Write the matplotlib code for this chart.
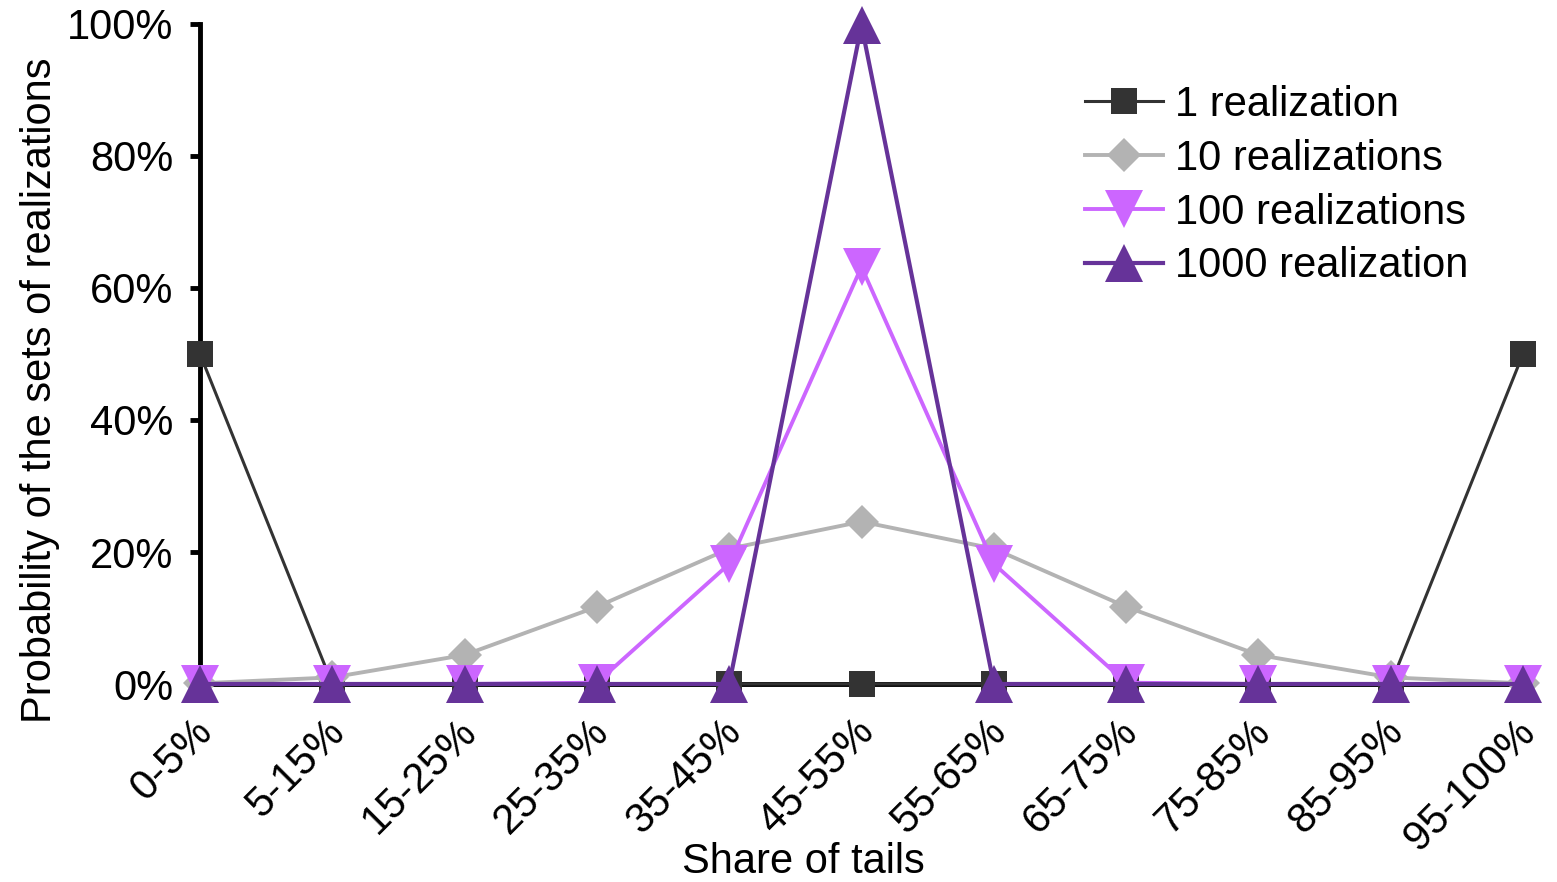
import matplotlib
matplotlib.use("Agg")
import matplotlib.pyplot as plt
import matplotlib.transforms as mtransforms
import numpy as np

categories = ["0-5%", "5-15%", "15-25%", "25-35%", "35-45%", "45-55%",
              "55-65%", "65-75%", "75-85%", "85-95%", "95-100%"]
s1 = [50, 0, 0, 0, 0, 0, 0, 0, 0, 0, 50]
s10 = [0.1, 1.0, 4.4, 11.7, 20.5, 24.6, 20.5, 11.7, 4.4, 1.0, 0.1]
s100 = [0, 0, 0, 0.2, 18.2, 63.2, 18.2, 0.2, 0, 0, 0]
s1000 = [0, 0, 0, 0, 0, 99.8, 0, 0, 0, 0, 0]
labels = ["1 realization", "10 realizations", "100 realizations", "1000 realization"]
yticks = [0, 20, 40, 60, 80, 100]

plt.rcParams['font.family'] = ['Liberation Sans', 'DejaVu Sans']
FS = 30

fig = plt.figure(figsize=(15.57, 8.82), dpi=100)
ax = fig.add_axes([200/1557, (882-684)/882, (1523-200)/1557, (684-24)/882])
x = np.arange(len(categories))

ax.plot(x, s1, color='#333333', lw=2.2, marker='s', ms=19, mec='#333333', mew=0,
        label=labels[0], clip_on=False, zorder=3)
ax.plot(x, s10, color='#b3b3b3', lw=2.8, marker='D', ms=17, mec='#b3b3b3', mew=0,
        label=labels[1], clip_on=False, zorder=4)
ax.plot(x, s100, color='#cc66ff', lw=2.8, marker='v', ms=27, mec='#cc66ff', mew=0,
        label=labels[2], clip_on=False, zorder=5)
ax.plot(x, s1000, color='#663399', lw=3.0, marker='^', ms=27, mec='#663399', mew=0,
        label=labels[3], clip_on=False, zorder=6)

ax.set_xlim(0, 10)
ax.set_ylim(0, 100)
ax.set_yticks(yticks)
ax.set_yticklabels([f"{v}%" for v in yticks])
ax.set_xticks(x)
ax.set_xticklabels(categories, rotation=45, ha='right', rotation_mode='anchor')

for side in ['top', 'right']:
    ax.spines[side].set_visible(False)
ax.spines['left'].set_linewidth(3.5)
ax.spines['bottom'].set_linewidth(3.5)
ax.spines['left'].set_zorder(2)
ax.spines['bottom'].set_zorder(2)
ax.tick_params(axis='y', direction='out', length=7, width=3.5, labelsize=FS, pad=12, colors='black')
ax.tick_params(axis='x', direction='out', length=0, labelsize=FS, pad=20)
shift = mtransforms.ScaledTranslation(-8/100, 0, fig.dpi_scale_trans)
for lbl in ax.get_xticklabels():
    lbl.set_transform(lbl.get_transform() + shift)

ax.set_xlabel("Share of tails", fontsize=FS)
ax.xaxis.set_label_coords(0.4558, -0.24)
ax.set_ylabel("Probability of the sets of realizations", fontsize=FS)
ax.yaxis.set_label_coords(-0.106, 0.445)

leg = ax.legend(loc='upper left', bbox_to_anchor=(1085/1557, 1 - 85/882),
                bbox_transform=fig.transFigure, frameon=False, fontsize=FS,
                handlelength=1.87, handletextpad=0.3, labelspacing=0.33,
                borderaxespad=0, borderpad=0)

fig.savefig("out.png", dpi=100)
